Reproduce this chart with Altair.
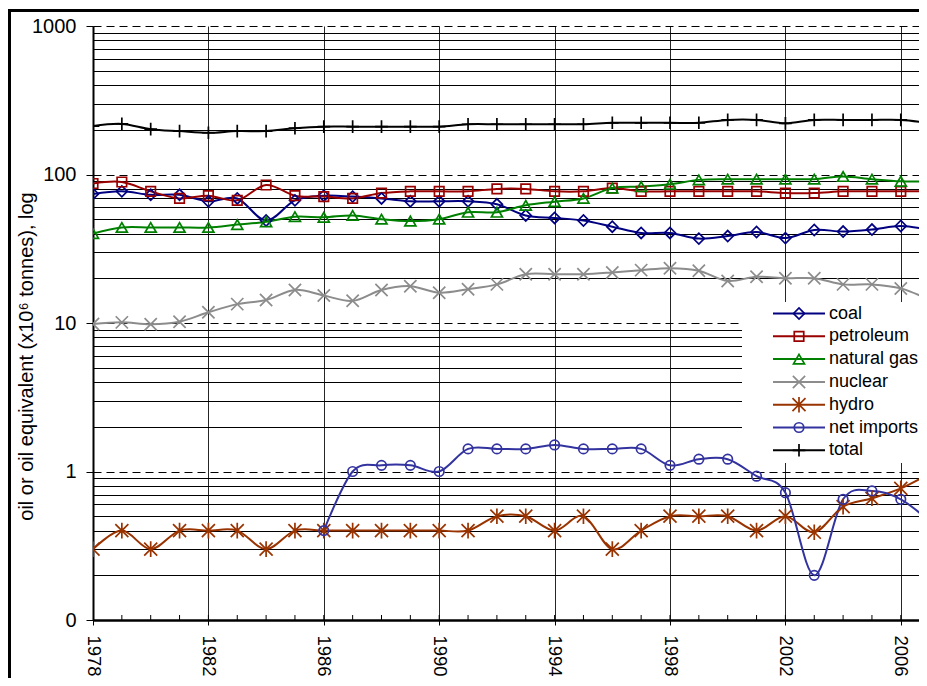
import altair as alt
import pandas as pd

# ---------------- data ----------------
years = list(range(1978, 2008))

coal = [74, 77, 73, 73, 66, 69, 49, 67, 72, 71, 69, 66, 66, 66, 63, 53, 51, 49,
        44.5, 40.4, 40.4, 37, 38.5, 41, 37.3, 42.3, 41.3, 42.6, 45, 42.3]
petroleum = [87, 89, 77, 69, 72, 67, 85, 72, 71, 69, 75, 77, 77, 77, 80, 80, 77, 77,
             81, 77, 77, 77, 77, 77, 75, 75, 77, 77, 77, 77]
natural_gas = [40, 44, 44, 44, 44, 46, 48, 52, 51.5, 53, 50, 48.6, 50, 55.7, 55.7, 62, 65.6, 69,
               81, 83, 86, 92, 93, 93, 93, 93, 97, 93, 90, 90]
nuclear = [9.85, 10.1, 9.8, 10.2, 11.8, 13.4, 14.3, 16.7, 15.3, 14.1, 16.7, 17.7, 16.0, 16.9,
           18.2, 21.3, 21.3, 21.3, 21.9, 22.7, 23.4, 22.5, 19.2, 20.5, 20.0, 20.0, 18.2, 18.2,
           17.1, 14.3]
hydro = [0.3, 0.4, 0.3, 0.4, 0.4, 0.4, 0.3, 0.4, 0.4, 0.4, 0.4, 0.4, 0.4, 0.4, 0.5, 0.5, 0.4, 0.5,
         0.3, 0.4, 0.5, 0.5, 0.5, 0.4, 0.5, 0.39, 0.58, 0.66, 0.77, 0.97]
net_imports = [None] * 8 + [0.4, 1.0, 1.1, 1.1, 1.0, 1.42, 1.42, 1.42, 1.51, 1.42, 1.42, 1.42,
                            1.1, 1.21, 1.21, 0.93, 0.72, 0.2, 0.65, 0.74, 0.65, 0.46]
total = [212, 219, 202, 196, 191, 196, 196, 205, 210, 210, 210, 210, 210, 218, 218, 218, 218, 218,
         223, 223, 223, 223, 233, 233, 221, 233, 233, 233, 233, 222]

series_names = ["coal", "petroleum", "natural gas", "nuclear", "hydro", "net imports", "total"]
series_values = [coal, petroleum, natural_gas, nuclear, hydro, net_imports, total]

x_label_years = years[:-1:4]          # 1978, 1982, ... 2006
y_decades = [0.1, 1, 10, 100, 1000]

# ---------------- styling ----------------
series_colors = ["#000080", "#990000", "#008000", "#8C8C8C", "#993300", "#3333A0", "#000000"]
X_PATH = "M-1,-1L1,1M-1,1L1,-1"
STAR_PATH = "M-1,-1L1,1M-1,1L1,-1M0,-1.2L0,1.2"
PLUS_PATH = "M-1,0L1,0M0,-1L0,1"
series_shapes = ["diamond", "square", "triangle-up", X_PATH, STAR_PATH, "circle", PLUS_PATH]
series_sizes = [121, 90, 121, 150, 170, 90, 160]
FONT = "Liberation Sans"

rows = []
for name, vals in zip(series_names, series_values):
    for yr, v in zip(years, vals):
        if v is not None:
            rows.append({"year": yr, "value": v, "series": name})
df = pd.DataFrame(rows)

# page body is 911 x 670 px: keep the whole svg inside it (no page overflow)
PAD_L, PAD_T, PAD_B = 85, 18, 58
W, H = 911 - PAD_L, 594
PX_PER_YEAR = 28.85
x_max = 1978 + W / PX_PER_YEAR

y_tick_values = sorted(set([round(m * d, 6) for d in y_decades[:-1] for m in range(1, 10)] + [1000]))
decade_test = "abs(log(datum.value)/LN10 - round(log(datum.value)/LN10)) < 1e-6"

x_scale = alt.Scale(domain=[1978, x_max], nice=False, zero=False)
y_scale = alt.Scale(type="log", domain=[0.1, 1000], nice=False)

x_axis = alt.Axis(values=x_label_years, format="d", title=None,
                  labelAngle=90, labelAlign="left", labelBaseline="middle",
                  labelFontSize=18.5, labelFont=FONT, labelColor="black", labelPadding=10,
                  tickSize=5, tickColor="black", tickWidth=1,
                  grid=True, gridColor="black", gridWidth=1, gridOpacity=0.85,
                  domainColor="black", domainWidth=2.5)
y_axis = alt.Axis(values=y_tick_values,
                  labelExpr=f"({decade_test}) ? (datum.value < 0.5 ? '0' : format(datum.value, 'd')) : ''",
                  labelFontSize=20, labelFont=FONT, labelColor="black", labelPadding=10,
                  tickSize=7, tickWidth=1,
                  tickColor=alt.condition(decade_test, alt.value("black"), alt.value("transparent")),
                  grid=True, gridColor="black", gridWidth=1,
                  gridDash=alt.condition(decade_test, alt.value([8, 5]), alt.value([])),
                  domainColor="black", domainWidth=2,
                  title="oil or oil equivalent (x10\u2076 tonnes), log",
                  titleFont=FONT, titleFontSize=20, titleFontWeight="normal", titleColor="black",
                  titleAngle=270, titleX=-67, titleY=330, titleAlign="center",
                  titleBaseline="middle")

color = alt.Color("series:N", scale=alt.Scale(domain=series_names, range=series_colors), legend=None)

base = alt.Chart(df).encode(
    x=alt.X("year:Q", scale=x_scale, axis=x_axis),
    y=alt.Y("value:Q", scale=y_scale, axis=y_axis),
)

lines = base.mark_line(interpolate="cardinal", tension=0, strokeWidth=2, clip=True).encode(
    color=color, detail="series:N")

points = base.mark_point(filled=False, strokeWidth=1.7, opacity=1, clip=True).encode(
    color=color,
    shape=alt.Shape("series:N", scale=alt.Scale(domain=series_names, range=series_shapes), legend=None),
    size=alt.Size("series:N", scale=alt.Scale(type="ordinal", domain=series_names, range=series_sizes),
                  legend=None),
)

minor_ticks = alt.Chart(pd.DataFrame({"year": years})).mark_rule(
    color="black", strokeWidth=1, clip=True).encode(
    x=alt.X("year:Q", scale=x_scale), y=alt.value(H - 5), y2=alt.value(H))

one = pd.DataFrame({"k": [0]})
frame_top = alt.Chart(one).mark_rule(color="black", strokeWidth=3).encode(
    x=alt.value(-PAD_L), x2=alt.value(W), y=alt.value(-15.5))
frame_left = alt.Chart(one).mark_rule(color="black", strokeWidth=3).encode(
    x=alt.value(-83.5), y=alt.value(-17), y2=alt.value(H + PAD_B))

# legend (Excel style: line + marker + label)
legend_layers = [alt.Chart(one).mark_rect(fill="white").encode(
    x=alt.value(649), x2=alt.value(W), y=alt.value(276), y2=alt.value(437))]
ly0, lstep = 287.5, 22.8
for i, (name, col, shp, sz) in enumerate(zip(series_names, series_colors, series_shapes, series_sizes)):
    ly = ly0 + i * lstep
    legend_layers.append(alt.Chart(one).mark_rule(color=col, strokeWidth=2).encode(
        x=alt.value(680), x2=alt.value(732), y=alt.value(ly)))
    legend_layers.append(alt.Chart(one).mark_point(
        shape=shp, size=sz, filled=False, color=col, strokeWidth=1.7, opacity=1).encode(
        x=alt.value(706), y=alt.value(ly)))
    legend_layers.append(alt.Chart(one).mark_text(
        text=name, font=FONT, fontSize=18, align="left", baseline="middle", color="black").encode(
        x=alt.value(736), y=alt.value(ly)))

chart = alt.layer(minor_ticks, lines, points, *legend_layers, frame_top, frame_left).properties(
    width=W, height=H, background="white",
    autosize=alt.AutoSizeParams(type="none"),
    padding={"left": PAD_L, "top": PAD_T, "right": 0, "bottom": PAD_B},
).configure_view(stroke=None)

chart.save("out.html", embed_options={"renderer": "svg", "actions": False})
